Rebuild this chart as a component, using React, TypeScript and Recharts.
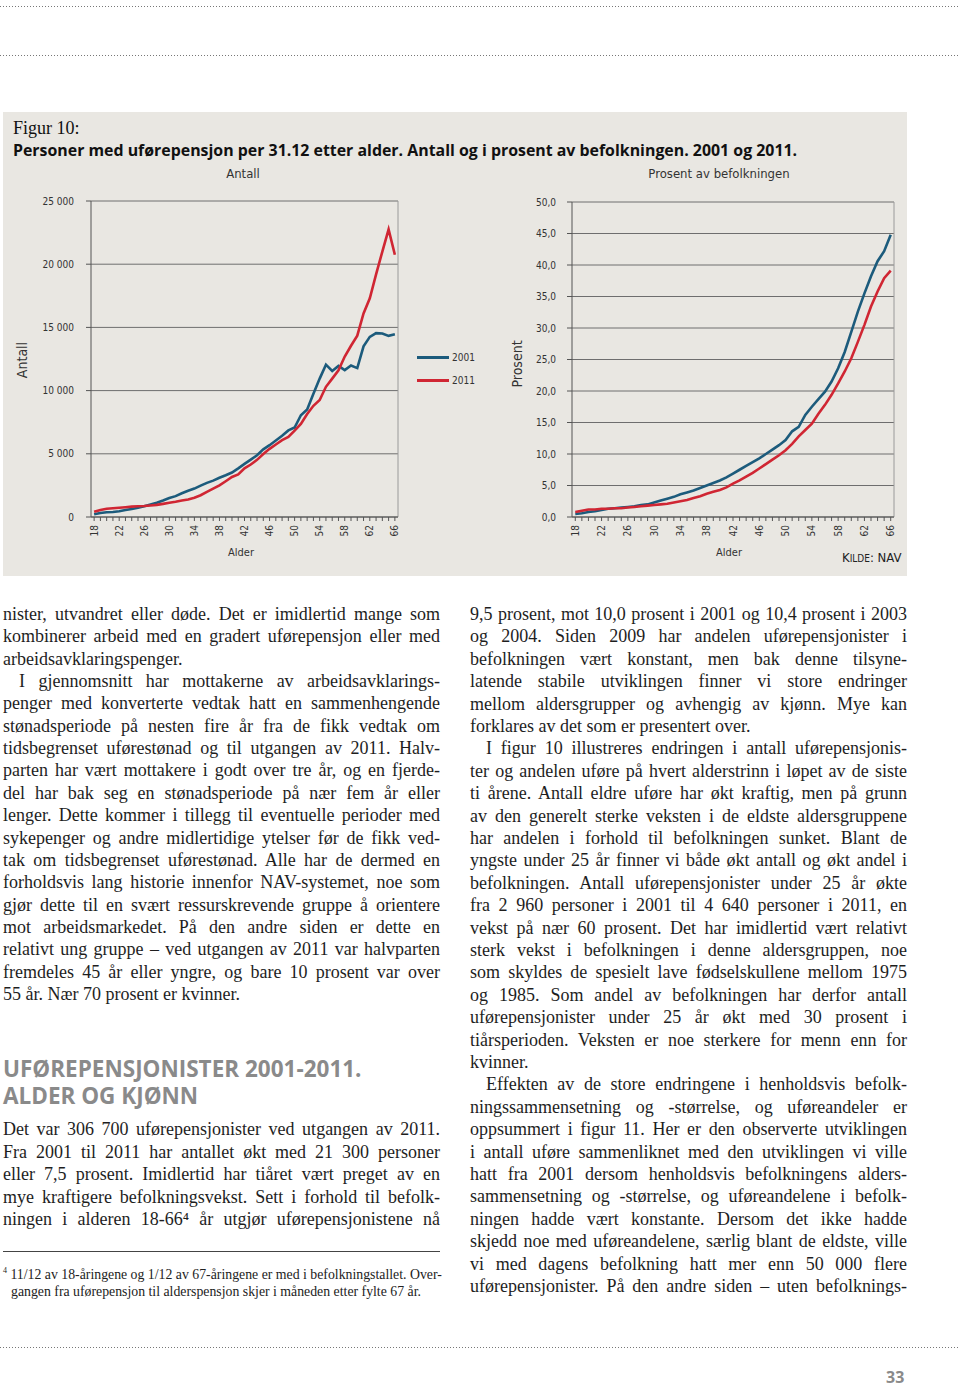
import React from 'react'
import {
  LineChart,
  Line,
  XAxis,
  YAxis,
  CartesianGrid,
  ReferenceLine,
  Legend,
} from 'recharts'

// alder 18-66
const ages = [
  18, 19, 20, 21, 22, 23, 24, 25, 26, 27, 28, 29, 30, 31, 32, 33, 34, 35, 36, 37, 38, 39, 40, 41, 42,
  43, 44, 45, 46, 47, 48, 49, 50, 51, 52, 53, 54, 55, 56, 57, 58, 59, 60, 61, 62, 63, 64, 65, 66,
]

const antall2001 = [
  220, 320, 380, 400, 460, 550, 630, 740, 850, 980, 1120, 1300, 1500, 1650, 1880, 2080, 2250, 2480,
  2700, 2880, 3100, 3300, 3520, 3850, 4200, 4540, 4880, 5350, 5680, 6050, 6420, 6850, 7080, 8050,
  8500, 9750, 10950, 12050, 11550, 11950, 11620, 11980, 11780, 13500, 14250, 14550, 14520, 14330,
  14450,
]

const antall2011 = [
  420, 560, 650, 690, 730, 770, 820, 850, 870, 910, 960, 1040, 1130, 1210, 1310, 1390, 1520, 1720,
  1990, 2240, 2500, 2830, 3170, 3370, 3850, 4150, 4520, 4980, 5390, 5740, 6080, 6330, 6830, 7360,
  8150, 8800, 9250, 10300, 10950, 11600, 12700, 13550, 14350, 16100, 17300, 19200, 21000, 22750,
  20750,
]

const prosent2001 = [
  0.5, 0.6, 0.8, 0.9, 1.1, 1.3, 1.4, 1.5, 1.6, 1.7, 1.9, 2.0, 2.3, 2.6, 2.9, 3.2, 3.6, 3.9, 4.2, 4.6,
  5.0, 5.4, 5.8, 6.3, 6.9, 7.5, 8.1, 8.7, 9.3, 10.0, 10.7, 11.4, 12.2, 13.6, 14.3, 16.2, 17.5, 18.7,
  19.9, 21.5, 23.6, 26.2, 29.4, 32.6, 35.5, 38.2, 40.6, 42.2, 44.8,
]

const prosent2011 = [
  0.8, 1.0, 1.2, 1.2, 1.3, 1.3, 1.4, 1.4, 1.5, 1.6, 1.7, 1.8, 1.9, 2.0, 2.1, 2.3, 2.5, 2.7, 3.0, 3.3,
  3.7, 4.0, 4.3, 4.7, 5.3, 5.8, 6.4, 7.0, 7.7, 8.4, 9.1, 9.8, 10.6, 11.6, 12.8, 13.8, 14.8, 16.4,
  17.8, 19.4, 21.2, 23.1, 25.2, 27.8, 30.5, 33.4, 35.8, 37.9, 39.1,
]

const antallTicks = [0, 5000, 10000, 15000, 20000, 25000]
const prosentTicks = [0, 5, 10, 15, 20, 25, 30, 35, 40, 45, 50]

const seriesNames = ['2001', '2011']
const BLUE = '#1c5b7c'
const RED = '#d02633'

const antallData = ages.map((a, i) => ({ age: a, y2001: antall2001[i], y2011: antall2011[i] }))
const prosentData = ages.map((a, i) => ({ age: a, y2001: prosent2001[i], y2011: prosent2011[i] }))

const leftText = [
  { t: 'nister, utvandret eller døde. Det er imidlertid mange som', j: true },
  { t: 'kombinerer arbeid med en gradert uførepensjon eller med', j: true },
  { t: 'arbeidsavklaringspenger.', j: false },
  { t: 'I gjennomsnitt har mottakerne av arbeidsavklarings-', j: true, indent: true },
  { t: 'penger med konverterte vedtak hatt en sammenhengende', j: true },
  { t: 'stønadsperiode på nesten fire år fra de fikk vedtak om', j: true },
  { t: 'tidsbegrenset uførestønad og til utgangen av 2011. Halv-', j: true },
  { t: 'parten har vært mottakere i godt over tre år, og en fjerde-', j: true },
  { t: 'del har bak seg en stønadsperiode på nær fem år eller', j: true },
  { t: 'lenger. Dette kommer i tillegg til eventuelle perioder med', j: true },
  { t: 'sykepenger og andre midlertidige ytelser før de fikk ved-', j: true },
  { t: 'tak om tidsbegrenset uførestønad. Alle har de dermed en', j: true },
  { t: 'forholdsvis lang historie innenfor NAV-systemet, noe som', j: true },
  { t: 'gjør dette til en svært ressurskrevende gruppe å orientere', j: true },
  { t: 'mot arbeidsmarkedet. På den andre siden er dette en', j: true },
  { t: 'relativt ung gruppe – ved utgangen av 2011 var halvparten', j: true },
  { t: 'fremdeles 45 år eller yngre, og bare 10 prosent var over', j: true },
  { t: '55 år. Nær 70 prosent er kvinner.', j: false },
]

const leftText2 = [
  { t: 'Det var 306 700 uførepensjonister ved utgangen av 2011.', j: true },
  { t: 'Fra 2001 til 2011 har antallet økt med 21 300 personer', j: true },
  { t: 'eller 7,5 prosent. Imidlertid har tiåret vært preget av en', j: true },
  { t: 'mye kraftigere befolkningsvekst. Sett i forhold til befolk-', j: true },
  { t: 'ningen i alderen 18-66⁴ år utgjør uførepensjonistene nå', j: true },
]

const rightText = [
  { t: '9,5 prosent, mot 10,0 prosent i 2001 og 10,4 prosent i 2003', j: true },
  { t: 'og 2004. Siden 2009 har andelen uførepensjonister i', j: true },
  { t: 'befolkningen vært konstant, men bak denne tilsyne-', j: true },
  { t: 'latende stabile utviklingen finner vi store endringer', j: true },
  { t: 'mellom aldersgrupper og avhengig av kjønn. Mye kan', j: true },
  { t: 'forklares av det som er presentert over.', j: false },
  { t: 'I figur 10 illustreres endringen i antall uførepensjonis-', j: true, indent: true },
  { t: 'ter og andelen uføre på hvert alderstrinn i løpet av de siste', j: true },
  { t: 'ti årene. Antall eldre uføre har økt kraftig, men på grunn', j: true },
  { t: 'av den generelt sterke veksten i de eldste aldersgruppene', j: true },
  { t: 'har andelen i forhold til befolkningen sunket. Blant de', j: true },
  { t: 'yngste under 25 år finner vi både økt antall og økt andel i', j: true },
  { t: 'befolkningen. Antall uførepensjonister under 25 år økte', j: true },
  { t: 'fra 2 960 personer i 2001 til 4 640 personer i 2011, en', j: true },
  { t: 'vekst på nær 60 prosent. Det har imidlertid vært relativt', j: true },
  { t: 'sterk vekst i befolkningen i denne aldersgruppen, noe', j: true },
  { t: 'som skyldes de spesielt lave fødselskullene mellom 1975', j: true },
  { t: 'og 1985. Som andel av befolkningen har derfor antall', j: true },
  { t: 'uførepensjonister under 25 år økt med 30 prosent i', j: true },
  { t: 'tiårsperioden. Veksten er noe sterkere for menn enn for', j: true },
  { t: 'kvinner.', j: false },
  { t: 'Effekten av de store endringene i henholdsvis befolk-', j: true, indent: true },
  { t: 'ningssammensetning og -størrelse, og uføreandeler er', j: true },
  { t: 'oppsummert i figur 11. Her er den observerte utviklingen', j: true },
  { t: 'i antall uføre sammenliknet med den utviklingen vi ville', j: true },
  { t: 'hatt fra 2001 dersom henholdsvis befolkningens alders-', j: true },
  { t: 'sammensetning og -størrelse, og uføreandelene i befolk-', j: true },
  { t: 'ningen hadde vært konstante. Dersom det ikke hadde', j: true },
  { t: 'skjedd noe med uføreandelene, særlig blant de eldste, ville', j: true },
  { t: 'vi med dagens befolkning hatt mer enn 50 000 flere', j: true },
  { t: 'uførepensjonister. På den andre siden – uten befolknings-', j: true },
]

const chartFont = '"DejaVu Sans Condensed", "Liberation Sans Narrow", sans-serif'
const serif = '"Liberation Serif", "DejaVu Serif", serif'
const sans = '"Open Sans", "DejaVu Sans", sans-serif'

const fmtAntall = (v: number) => String(v).replace(/\B(?=(\d{3})+(?!\d))/g, ' ')
const fmtProsent = (v: number) => v.toFixed(1).replace('.', ',')

function AgeTick(props: any) {
  const { x, y, payload } = props
  if ((payload.value - 18) % 4 !== 0) return <g />
  return (
    <text
      transform={`translate(${x + 3.5},${y + 2}) rotate(-90)`}
      textAnchor="end"
      fontSize={10}
      fontFamily={chartFont}
      fill="#333"
    >
      {payload.value}
    </text>
  )
}

function LegendBox() {
  return (
    <div style={{ fontFamily: chartFont, fontSize: 10, color: '#333' }}>
      {seriesNames.map((name, i) => (
        <div key={name} style={{ display: 'flex', alignItems: 'center', height: 23 }}>
          <div style={{ width: 32, height: 3, background: i === 0 ? BLUE : RED, marginRight: 3 }} />
          <span>{name}</span>
        </div>
      ))}
    </div>
  )
}

function TextLine({ t, j, indent, x, y, w }: any) {
  return (
    <div
      style={{
        position: 'absolute',
        left: x + (indent ? 16 : 0),
        top: y - 12,
        width: w - (indent ? 16 : 0),
        fontFamily: serif,
        fontSize: 18,
        lineHeight: '22px',
        color: '#1e1e1e',
        textAlign: 'justify',
        textAlignLast: j ? 'justify' : 'left',
        whiteSpace: 'nowrap',
      }}
    >
      {t}
    </div>
  )
}

const dotted = (top: number) => (
  <div
    style={{
      position: 'absolute',
      left: 0,
      top,
      width: 960,
      height: 1,
      background: 'repeating-linear-gradient(to right, #777 0 1px, transparent 1px 3px)',
    }}
  />
)

export default function App() {
  return (
    <div style={{ position: 'absolute', left: 0, top: 0, width: 960, height: 1387, background: '#fff', overflow: 'hidden' }}>
      {dotted(6)}
      {dotted(55)}

      {/* grå figurboks */}
      <div style={{ position: 'absolute', left: 3, top: 112, width: 904, height: 464, background: '#e9e7e2' }} />
      <div style={{ position: 'absolute', left: 13, top: 118, fontFamily: serif, fontSize: 18, color: '#111' }}>Figur 10:</div>
      <div style={{ position: 'absolute', left: 13, top: 139, fontFamily: sans, fontWeight: 700, fontSize: 15.9, color: '#111', whiteSpace: 'nowrap' }}>
        Personer med uførepensjon per 31.12 etter alder. Antall og i prosent av befolkningen. 2001 og 2011.
      </div>

      <div style={{ position: 'absolute', left: 143, width: 200, top: 166, textAlign: 'center', fontFamily: chartFont, fontSize: 13, color: '#333' }}>Antall</div>
      <div style={{ position: 'absolute', left: 619, width: 200, top: 166, textAlign: 'center', fontFamily: chartFont, fontSize: 13, color: '#333' }}>
        Prosent av befolkningen
      </div>
      <div style={{ position: 'absolute', left: -28, width: 100, top: 352, textAlign: 'center', transform: 'rotate(-90deg)', fontFamily: chartFont, fontSize: 14, color: '#333' }}>Antall</div>
      <div style={{ position: 'absolute', left: 467, width: 100, top: 356, textAlign: 'center', transform: 'rotate(-90deg)', fontFamily: chartFont, fontSize: 14, color: '#333' }}>Prosent</div>
      <div style={{ position: 'absolute', left: 191, width: 100, top: 546, textAlign: 'center', fontFamily: chartFont, fontSize: 11, color: '#333' }}>Alder</div>
      <div style={{ position: 'absolute', left: 679, width: 100, top: 546, textAlign: 'center', fontFamily: chartFont, fontSize: 11, color: '#333' }}>Alder</div>
      <div style={{ position: 'absolute', left: 842, top: 550, fontFamily: chartFont, fontSize: 13, color: '#222' }}>
        K<span style={{ fontSize: 10 }}>ILDE</span>: NAV
      </div>

      <div style={{ position: 'absolute', left: 0, top: 180 }}>
        <LineChart width={480} height={400} data={antallData} margin={{ top: 21, right: 82, bottom: 33, left: 31 }}>
          <CartesianGrid vertical={false} stroke="#6e6e6e" />
          <XAxis
            dataKey="age"
            type="number"
            domain={[17.5, 66.5]}
            ticks={ages}
            interval={0}
            height={30}
            tick={<AgeTick />}
            tickSize={4}
            stroke="#555"
          />
          <YAxis
            type="number"
            domain={[0, 25000]}
            ticks={antallTicks}
            width={60}
            tickFormatter={fmtAntall}
            tickSize={5}
            tickMargin={12}
            stroke="#555"
            tick={{ fontSize: 10, fontFamily: chartFont, fill: '#333' }}
          />
          <ReferenceLine x={66.5} stroke="#9a9a9a" />
          <Legend
            layout="vertical"
            align="center"
            verticalAlign="middle"
            wrapperStyle={{ left: 417, top: 166, width: 70 }}
            content={<LegendBox />}
          />
          <Line type="linear" dataKey="y2001" name="2001" stroke={BLUE} strokeWidth={2.6} dot={false} isAnimationActive={false} />
          <Line type="linear" dataKey="y2011" name="2011" stroke={RED} strokeWidth={2.6} dot={false} isAnimationActive={false} />
        </LineChart>
      </div>

      <div style={{ position: 'absolute', left: 480, top: 180 }}>
        <LineChart width={430} height={400} data={prosentData} margin={{ top: 22, right: 16, bottom: 33, left: 32 }}>
          <CartesianGrid vertical={false} stroke="#6e6e6e" />
          <XAxis
            dataKey="age"
            type="number"
            domain={[17.5, 66.5]}
            ticks={ages}
            interval={0}
            height={30}
            tick={<AgeTick />}
            tickSize={4}
            stroke="#555"
          />
          <YAxis
            type="number"
            domain={[0, 50]}
            ticks={prosentTicks}
            width={60}
            tickFormatter={fmtProsent}
            tickSize={5}
            tickMargin={11}
            stroke="#555"
            tick={{ fontSize: 10, fontFamily: chartFont, fill: '#333' }}
          />
          <ReferenceLine x={66.5} stroke="#9a9a9a" />
          <Line type="linear" dataKey="y2001" name="2001" stroke={BLUE} strokeWidth={2.6} dot={false} isAnimationActive={false} />
          <Line type="linear" dataKey="y2011" name="2011" stroke={RED} strokeWidth={2.6} dot={false} isAnimationActive={false} />
        </LineChart>
      </div>

      {leftText.map((l, i) => (
        <TextLine key={'l' + i} {...l} x={3} y={615 + i * 22.35} w={437} />
      ))}

      <div style={{ position: 'absolute', left: 3, top: 1057, fontFamily: sans, fontWeight: 700, fontSize: 22.5, lineHeight: '24px', color: '#8a8a8a', whiteSpace: 'nowrap' }}>
        UFØREPENSJONISTER 2001-2011.
      </div>
      <div style={{ position: 'absolute', left: 3, top: 1084, fontFamily: sans, fontWeight: 700, fontSize: 22.5, lineHeight: '24px', color: '#8a8a8a', whiteSpace: 'nowrap' }}>
        ALDER OG KJØNN
      </div>

      {leftText2.map((l, i) => (
        <TextLine key={'m' + i} {...l} x={3} y={1130 + i * 22.5} w={437} />
      ))}

      <div style={{ position: 'absolute', left: 3, top: 1251, width: 437, height: 1, background: '#444' }} />
      <div style={{ position: 'absolute', left: 3, top: 1262, fontFamily: serif, fontSize: 13.8, lineHeight: '17.5px', color: '#222', whiteSpace: 'nowrap' }}>
        <sup style={{ fontSize: 8 }}>4</sup> 11/12 av 18-åringene og 1/12 av 67-åringene er med i befolkningstallet. Over-
        <br />
        <span style={{ paddingLeft: 8 }}>gangen fra uførepensjon til alderspensjon skjer i måneden etter fylte 67 år.</span>
      </div>

      {rightText.map((l, i) => (
        <TextLine key={'r' + i} {...l} x={470} y={615 + i * 22.4} w={437} />
      ))}

      {dotted(1347)}
      <div style={{ position: 'absolute', left: 886, top: 1368, fontFamily: sans, fontWeight: 700, fontSize: 16, lineHeight: '18px', color: '#8a8a8a' }}>33</div>
    </div>
  )
}
